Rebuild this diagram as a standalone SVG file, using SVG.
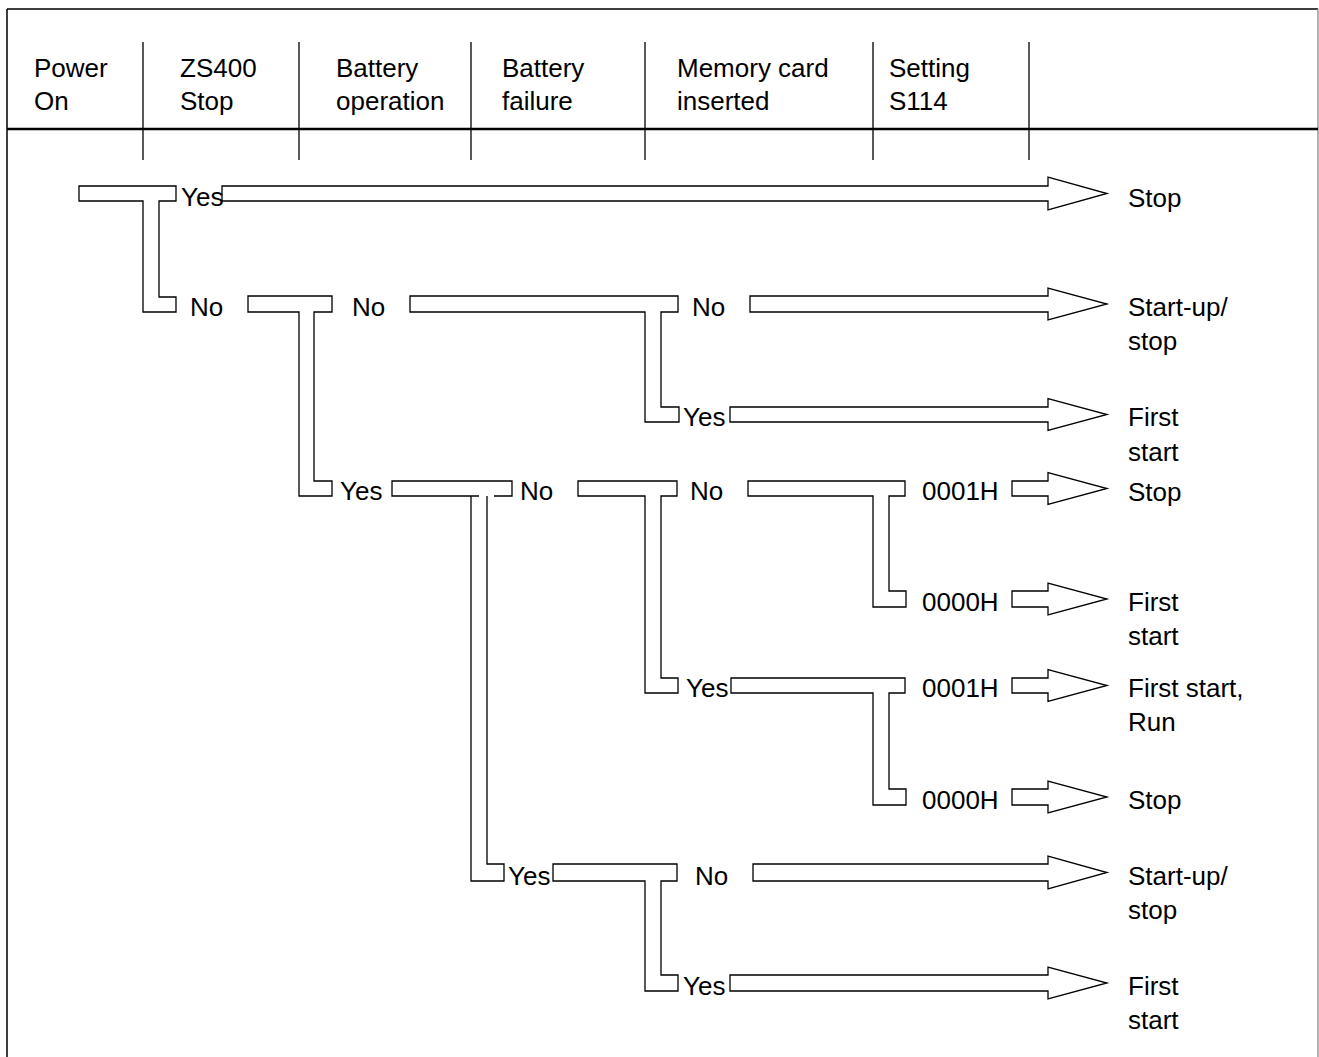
<svg xmlns="http://www.w3.org/2000/svg" width="1319" height="1057" viewBox="0 0 1319 1057">
<style>
text{font-family:"Liberation Sans",Arial,sans-serif;font-size:26px;fill:#000}
.pipe{fill:#fff;stroke:#000;stroke-width:1.3;stroke-linejoin:miter}
.open{fill:none;stroke:#000;stroke-width:1.3}
.div{stroke:#000;stroke-width:1.3}
</style>
<rect width="1319" height="1057" fill="#fff"/>
<g id="frame">
<line x1="7" y1="9" x2="1318" y2="9" stroke="#000" stroke-width="1.5"/>
<line x1="7" y1="9" x2="7" y2="1057" stroke="#000" stroke-width="1.5"/>
<line x1="1318" y1="9" x2="1318" y2="1057" stroke="#999" stroke-width="1.5"/>
<line x1="7" y1="129" x2="1318" y2="129" stroke="#000" stroke-width="2.6"/>
<line class="div" x1="143" y1="42" x2="143" y2="160"/>
<line class="div" x1="299" y1="42" x2="299" y2="160"/>
<line class="div" x1="471" y1="42" x2="471" y2="160"/>
<line class="div" x1="645" y1="42" x2="645" y2="160"/>
<line class="div" x1="873" y1="42" x2="873" y2="160"/>
<line class="div" x1="1029" y1="42" x2="1029" y2="160"/>
</g>
<g id="header">
<text x="34" y="77">Power</text><text x="34" y="110">On</text>
<text x="180" y="77">ZS400</text><text x="180" y="110">Stop</text>
<text x="336" y="77">Battery</text><text x="336" y="110">operation</text>
<text x="502" y="77">Battery</text><text x="502" y="110">failure</text>
<text x="677" y="77">Memory card</text><text x="677" y="110">inserted</text>
<text x="889" y="77">Setting</text><text x="889" y="110">S114</text>
</g>
<g id="connectors">
<path id="b-power" class="pipe" d="M79,186 H176 V201 H159 V297 H176 V312 H143 V201 H79 Z"/>
<path id="b-zs400" class="pipe" d="M248,296 H332 V312 H314 V481 H332 V496 H299 V312 H248 Z"/>
<path id="b-batop-no" class="pipe" d="M410,296 H678 V312 H661 V407 H679 V422 H645 V312 H410 Z"/>
<g id="b-batop-yes">
<path class="open" d="M479,496 H392 V481 H512 V496 H494"/>
<path class="open" d="M471,496 V881 H504 V864 H487 V496"/>
</g>
<path id="b-batfail-no" class="pipe" d="M578,481 H677 V496 H661 V678 H678 V693 H645 V496 H578 Z"/>
<path id="b-mem-no" class="pipe" d="M748,481 H905 V496 H889 V591 H906 V607 H873 V496 H748 Z"/>
<path id="b-mem-yes" class="pipe" d="M731,678 H905 V693 H889 V789 H906 V805 H873 V693 H731 Z"/>
<path id="b-batfail-yes" class="pipe" d="M553,864 H677 V881 H661 V975 H678 V991 H645 V881 H553 Z"/>
<path id="a1" class="pipe" d="M222,186 H1048 V177 L1107,193.5 L1048,210 V201 H222 Z"/>
<path id="a2" class="pipe" d="M750,296 H1048 V288 L1107,304 L1048,320 V312 H750 Z"/>
<path id="a3" class="pipe" d="M730,407 H1048 V398.5 L1107,414.5 L1048,430.5 V422 H730 Z"/>
<path id="a4" class="pipe" d="M1012,481 H1048 V472.5 L1107,488.5 L1048,504.5 V496 H1012 Z"/>
<path id="a5" class="pipe" d="M1012,591 H1048 V583 L1107,599 L1048,615 V607 H1012 Z"/>
<path id="a6" class="pipe" d="M1012,678 H1048 V669.5 L1107,685.5 L1048,701.5 V693 H1012 Z"/>
<path id="a7" class="pipe" d="M1012,789 H1048 V781 L1107,797 L1048,813 V805 H1012 Z"/>
<path id="a8" class="pipe" d="M753,864 H1048 V856 L1107,872.5 L1048,889 V881 H753 Z"/>
<path id="a9" class="pipe" d="M730,975 H1048 V967 L1107,983 L1048,999 V991 H730 Z"/>
</g>
<g id="labels">
<text x="181" y="206">Yes</text>
<text x="190" y="316">No</text>
<text x="352" y="316">No</text>
<text x="692" y="316">No</text>
<text x="683" y="426">Yes</text>
<text x="340" y="500">Yes</text>
<text x="520" y="500">No</text>
<text x="690" y="500">No</text>
<text x="922" y="500">0001H</text>
<text x="922" y="611">0000H</text>
<text x="686" y="697">Yes</text>
<text x="922" y="697">0001H</text>
<text x="922" y="809">0000H</text>
<text x="508" y="885">Yes</text>
<text x="695" y="885">No</text>
<text x="683" y="995">Yes</text>
</g>
<g id="outcomes">
<text x="1128" y="207">Stop</text>
<text x="1128" y="316">Start-up/</text><text x="1128" y="350">stop</text>
<text x="1128" y="426">First</text><text x="1128" y="461">start</text>
<text x="1128" y="501">Stop</text>
<text x="1128" y="611">First</text><text x="1128" y="645">start</text>
<text x="1128" y="697">First start,</text><text x="1128" y="731">Run</text>
<text x="1128" y="809">Stop</text>
<text x="1128" y="885">Start-up/</text><text x="1128" y="919">stop</text>
<text x="1128" y="995">First</text><text x="1128" y="1029">start</text>
</g>
</svg>
